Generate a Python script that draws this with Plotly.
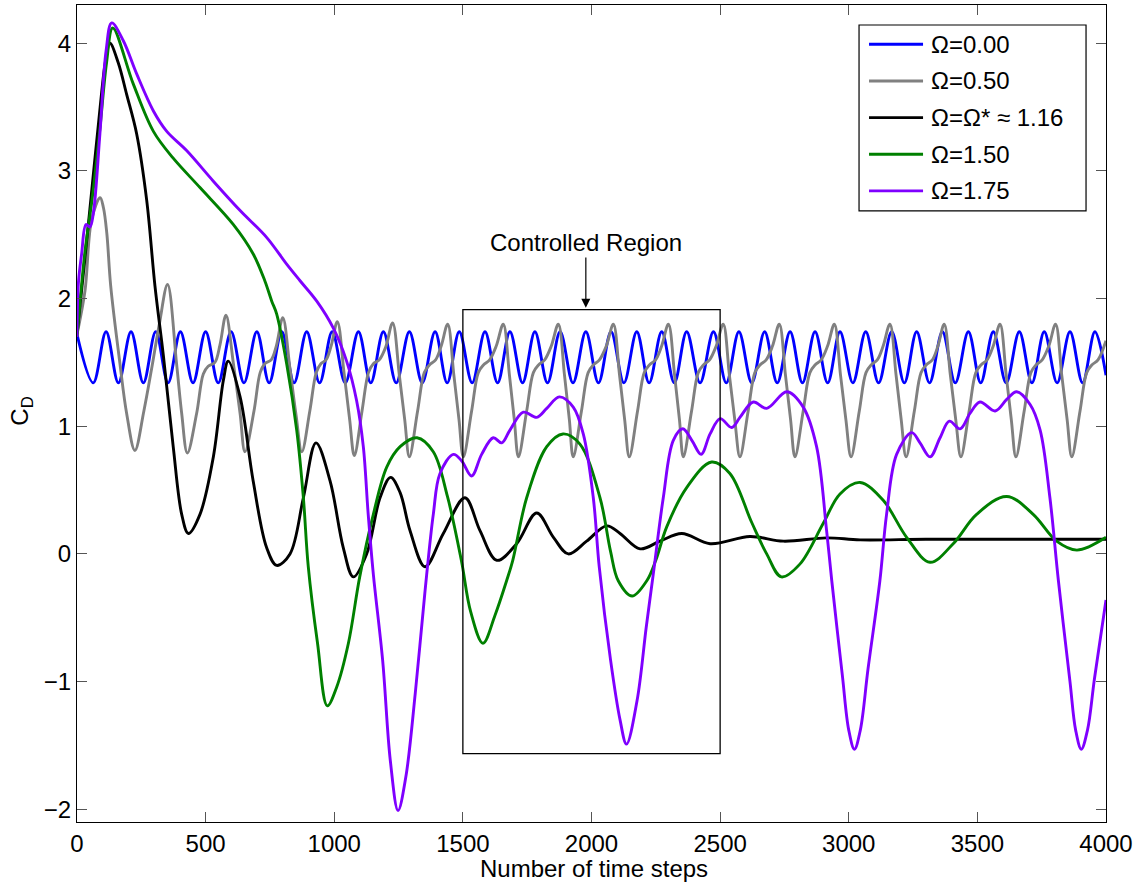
import plotly.graph_objects as go

# ---------------------------------------------------------------- data
# Drag coefficient C_D against number of time steps for five rotation rates

blue_steps = [0, 63, 113, 161, 210, 258, 306, 354, 402, 451, 500, 549, 599, 649, 699, 747,
              796, 844, 893, 943, 992, 1043, 1094, 1142, 1191, 1241, 1292, 1342, 1392, 1439,
              1486, 1536, 1586, 1635, 1683, 1732, 1780, 1829, 1878, 1928, 1978, 2027, 2076,
              2126, 2176, 2224, 2273, 2322, 2370, 2422, 2474, 2524, 2573, 2623, 2673, 2722,
              2772, 2820, 2869, 2918, 2966, 3016, 3066, 3116, 3167, 3216, 3264, 3314, 3364,
              3414, 3465, 3513, 3562, 3612, 3663, 3712, 3760, 3810, 3860, 3909, 3957, 4000]
blue_cd = [1.72, 1.34, 1.74, 1.34, 1.74, 1.34, 1.74, 1.34, 1.74, 1.34, 1.74, 1.34, 1.74, 1.34,
           1.74, 1.34, 1.74, 1.34, 1.74, 1.34, 1.74, 1.34, 1.74, 1.34, 1.74, 1.34, 1.74, 1.34,
           1.74, 1.34, 1.74, 1.34, 1.74, 1.34, 1.74, 1.34, 1.74, 1.34, 1.74, 1.34, 1.74, 1.34,
           1.74, 1.34, 1.74, 1.34, 1.74, 1.34, 1.74, 1.34, 1.74, 1.34, 1.74, 1.34, 1.74, 1.34,
           1.74, 1.34, 1.74, 1.34, 1.74, 1.34, 1.74, 1.34, 1.74, 1.34, 1.74, 1.34, 1.74, 1.34,
           1.74, 1.34, 1.74, 1.34, 1.74, 1.34, 1.74, 1.34, 1.74, 1.34, 1.74, 1.40]

gray_steps = [0, 31, 57, 90, 103, 116, 131, 167, 193, 225,
              260, 290, 320, 352, 387, 407, 429,
              465, 491, 510, 536, 556, 579, 608, 634, 653,
              688, 712, 730, 755, 775, 800, 828, 852, 874,
              905, 930, 948, 968, 988, 1012, 1038, 1060, 1078,
              1108, 1133, 1152, 1175, 1200, 1227, 1253, 1274, 1292,
              1324, 1350, 1370, 1394, 1416, 1441, 1465, 1485, 1502,
              1534, 1560, 1580, 1604, 1630, 1657, 1681, 1700, 1716,
              1748, 1774, 1794, 1818, 1844, 1871, 1895, 1914, 1929,
              1961, 1987, 2007, 2031, 2058, 2085, 2109, 2129, 2147,
              2179, 2205, 2225, 2249, 2273, 2299, 2323, 2342, 2357,
              2389, 2415, 2435, 2459, 2485, 2512, 2536, 2557, 2577,
              2609, 2635, 2655, 2679, 2704, 2730, 2754, 2774, 2791,
              2823, 2849, 2869, 2893, 2918, 2944, 2968, 2989, 3009,
              3041, 3067, 3087, 3111, 3134, 3160, 3184, 3204, 3223,
              3255, 3281, 3301, 3325, 3347, 3371, 3395, 3416, 3436,
              3468, 3494, 3514, 3538, 3562, 3588, 3612, 3632, 3650,
              3682, 3708, 3728, 3752, 3778, 3804, 3828, 3849, 3867,
              3899, 3925, 3945, 3969, 4000]
gray_cd = [1.72, 2.06, 2.62, 2.79, 2.71, 2.51, 2.10, 1.49, 1.10, 0.81,
           1.12, 1.45, 1.80, 2.11, 1.49, 1.10, 0.79,
           1.10, 1.41, 1.47, 1.50, 1.64, 1.87, 1.49, 1.10, 0.80,
           1.12, 1.42, 1.49, 1.52, 1.63, 1.85, 1.45, 1.08, 0.80,
           1.12, 1.42, 1.49, 1.52, 1.63, 1.82, 1.42, 1.05, 0.77,
           1.12, 1.42, 1.49, 1.52, 1.62, 1.81, 1.40, 1.05, 0.76,
           1.12, 1.42, 1.48, 1.52, 1.63, 1.80, 1.40, 1.05, 0.76,
           1.12, 1.42, 1.48, 1.52, 1.63, 1.80, 1.40, 1.05, 0.76,
           1.12, 1.42, 1.48, 1.52, 1.63, 1.80, 1.40, 1.05, 0.76,
           1.12, 1.42, 1.48, 1.52, 1.63, 1.80, 1.40, 1.05, 0.76,
           1.12, 1.42, 1.48, 1.52, 1.63, 1.80, 1.40, 1.05, 0.76,
           1.12, 1.42, 1.48, 1.52, 1.63, 1.80, 1.40, 1.05, 0.76,
           1.12, 1.42, 1.48, 1.52, 1.63, 1.80, 1.40, 1.05, 0.76,
           1.12, 1.42, 1.48, 1.52, 1.63, 1.80, 1.40, 1.05, 0.76,
           1.12, 1.42, 1.48, 1.52, 1.63, 1.80, 1.40, 1.05, 0.76,
           1.12, 1.42, 1.48, 1.52, 1.63, 1.80, 1.40, 1.05, 0.76,
           1.12, 1.42, 1.48, 1.52, 1.63, 1.80, 1.40, 1.05, 0.76,
           1.12, 1.42, 1.48, 1.52, 1.63, 1.80, 1.40, 1.05, 0.76,
           1.12, 1.42, 1.48, 1.52, 1.67]

black_steps = [0, 30, 60, 90, 110, 128, 160, 193, 232, 271, 303, 336, 374, 407, 433, 478,
               530, 569, 588, 634, 685, 737, 776, 828, 880, 929, 984, 1035, 1074, 1126,
               1178, 1219, 1256, 1295, 1353, 1424, 1508, 1567, 1632, 1709, 1787, 1852,
               1910, 1981, 2059, 2111, 2189, 2266, 2351, 2461, 2616, 2746, 2914, 3044,
               3300, 3600, 4000]
black_cd = [1.72, 2.30, 2.90, 3.50, 3.85, 4.00, 3.85, 3.60, 3.29, 2.77, 2.10, 1.55, 0.84,
            0.31, 0.16, 0.31, 0.76, 1.36, 1.51, 1.23, 0.57, 0.05, -0.09, 0.00, 0.44, 0.87,
            0.57, 0.05, -0.18, 0.00, 0.44, 0.60, 0.48, 0.18, -0.10, 0.16, 0.44, 0.18, -0.05,
            0.08, 0.32, 0.13, 0.00, 0.10, 0.22, 0.16, 0.04, 0.10, 0.16, 0.08, 0.136, 0.10,
            0.126, 0.11, 0.115, 0.115, 0.115]

green_steps = [0, 30, 60, 90, 115, 139, 219, 297, 374, 478, 608, 685, 730, 757, 776, 815,
               854, 880, 899, 935, 973, 1010, 1055, 1099, 1152, 1204, 1256, 1322, 1385,
               1440, 1494, 1530, 1578, 1625, 1670, 1694, 1748, 1826, 1889, 1955, 2033,
               2074, 2104, 2158, 2215, 2250, 2292, 2370, 2467, 2538, 2622, 2681, 2738,
               2810, 2901, 2966, 3044, 3134, 3225, 3316, 3406, 3497, 3614, 3717, 3808,
               3887, 4000]
green_cd = [1.70, 2.35, 2.80, 3.35, 3.85, 4.12, 3.68, 3.31, 3.10, 2.87, 2.58, 2.35, 2.14,
            1.98, 1.88, 1.49, 0.97, 0.44, -0.10, -0.70, -1.19, -1.04, -0.70, -0.18, 0.31,
            0.68, 0.84, 0.91, 0.80, 0.45, -0.05, -0.45, -0.70, -0.48, -0.21, -0.05, 0.44,
            0.84, 0.94, 0.86, 0.44, 0.02, -0.21, -0.33, -0.21, -0.05, 0.21, 0.52, 0.72,
            0.63, 0.25, 0.00, -0.18, -0.08, 0.24, 0.47, 0.56, 0.42, 0.13, -0.065, 0.08,
            0.31, 0.45, 0.31, 0.10, 0.03, 0.13]

purple_steps = [0, 5, 18, 35, 50, 63, 89, 113, 135, 180, 232, 297, 349, 426, 530, 634, 737,
                815, 867, 932, 996, 1048, 1087, 1113, 1132, 1152, 1188, 1218, 1248, 1278,
                1315, 1352, 1385, 1411, 1463, 1495, 1534, 1573, 1618, 1651, 1683, 1735,
                1787, 1826, 1875, 1929, 1968, 2007, 2030, 2074, 2111, 2136, 2177, 2213,
                2240, 2279, 2318, 2355, 2390, 2426, 2461, 2500, 2545, 2577, 2629, 2681,
                2759, 2823, 2875, 2914, 2934, 2975, 3000, 3022, 3045, 3075, 3121, 3147,
                3186, 3245, 3277, 3316, 3355, 3391, 3433, 3471, 3510, 3569, 3614, 3653,
                3705, 3744, 3782, 3815, 3860, 3882, 3904, 3928, 3955, 4000]
purple_cd = [1.70, 2.11, 2.35, 2.58, 2.56, 2.66, 3.29, 3.94, 4.16, 4.02, 3.76, 3.47, 3.31,
             3.16, 2.92, 2.69, 2.48, 2.27, 2.14, 1.98, 1.77, 1.51, 1.20, 0.84, 0.31, -0.16,
             -0.83, -1.62, -2.01, -1.75, -1.09, -0.31, 0.31, 0.63, 0.78, 0.73, 0.61, 0.78,
             0.91, 0.87, 0.97, 1.11, 1.07, 1.14, 1.23, 1.15, 0.94, 0.44, -0.10, -0.83,
             -1.30, -1.49, -1.15, -0.57, -0.16, 0.44, 0.89, 0.98, 0.89, 0.78, 0.94, 1.06,
             0.99, 1.07, 1.19, 1.14, 1.27, 1.15, 0.84, 0.18, -0.21, -0.95, -1.38, -1.53,
             -1.38, -0.90, -0.21, 0.31, 0.78, 0.95, 0.87, 0.76, 0.91, 1.04, 0.98, 1.10,
             1.19, 1.12, 1.21, 1.27, 1.17, 0.97, 0.44, -0.21, -1.00, -1.38, -1.53, -1.38,
             -0.98, -0.36]

series_names = ["Ω=0.00", "Ω=0.50", "Ω=Ω* ≈ 1.16", "Ω=1.50", "Ω=1.75"]
series_colors = ["#0000FF", "#808080", "#000000", "#008000", "#7F00FF"]

x_ticks = [0, 500, 1000, 1500, 2000, 2500, 3000, 3500, 4000]
y_ticks = [-2, -1, 0, 1, 2, 3, 4]

# controlled-region window (steps, C_D) and its caption
region_start, region_end = 1500, 2500
region_low, region_high = -1.565, 1.913
caption_step, caption_cd, arrow_tip_cd = 1978, 2.44, 1.928

# ---------------------------------------------------------------- figure
FONT = "Liberation Sans, Arial, Helvetica, sans-serif"
LINE_W = 2.9

fig = go.Figure()
all_series = [(blue_steps, blue_cd), (gray_steps, gray_cd), (black_steps, black_cd),
              (green_steps, green_cd), (purple_steps, purple_cd)]
for (xs, ys), name, color in zip(all_series, series_names, series_colors):
    fig.add_trace(go.Scatter(x=xs, y=ys, mode="lines", name=name, showlegend=False,
                             line=dict(color=color, width=LINE_W, shape="spline",
                                       smoothing=1.0),
                             hoverinfo="skip"))

axis_common = dict(showgrid=False, zeroline=False, showline=True, linecolor="black",
                   linewidth=1.2, mirror="ticks", ticks="inside", ticklen=10, tickwidth=1,
                   tickcolor="#555555", tickfont=dict(family=FONT, size=24, color="black"))

fig.update_xaxes(range=[0, 4000], tickvals=x_ticks, ticktext=[str(v) for v in x_ticks],
                 **axis_common)
fig.update_yaxes(range=[-2.1, 4.3], tickvals=y_ticks,
                 ticktext=[str(v).replace("-", "−") for v in y_ticks], **axis_common)

# controlled region box with its arrow caption
fig.add_shape(type="rect", xref="x", yref="y", x0=region_start, x1=region_end,
              y0=region_low, y1=region_high, line=dict(color="black", width=1.3))
fig.add_annotation(x=caption_step, y=arrow_tip_cd, ax=caption_step, ay=caption_cd,
                   xref="x", yref="y", axref="x", ayref="y", text="Controlled Region",
                   showarrow=True, arrowhead=2, arrowsize=1.5, arrowwidth=1.2,
                   arrowcolor="black", font=dict(family=FONT, size=24, color="black"))

# legend drawn as a framed key in the upper right
fig.add_shape(type="rect", xref="paper", yref="paper", x0=0.760, x1=0.9806,
              y0=0.7481, y1=0.9755, line=dict(color="black", width=1.2),
              fillcolor="white", layer="above")
legend_rows = [0.9519, 0.9070, 0.8621, 0.8174, 0.7725]
for row_y, name, color in zip(legend_rows, series_names, series_colors):
    fig.add_shape(type="line", xref="paper", yref="paper", x0=0.7697, x1=0.8222,
                  y0=row_y, y1=row_y, line=dict(color=color, width=LINE_W), layer="above")
    fig.add_annotation(x=0.828, y=row_y, xref="paper", yref="paper", text=name,
                       showarrow=False, xanchor="left", yanchor="middle",
                       font=dict(family=FONT, size=24, color="black"))

# axis titles
fig.add_annotation(x=0.502, y=-0.0385, xref="paper", yref="paper",
                   text="Number of time steps", showarrow=False, xanchor="center",
                   yanchor="top", font=dict(family=FONT, size=24, color="black"))
fig.add_annotation(x=-0.0535, y=0.5034, xref="paper", yref="paper", text="C<sub>D</sub>",
                   textangle=-90, showarrow=False, xanchor="center", yanchor="middle",
                   font=dict(family=FONT, size=24, color="black"))

fig.update_layout(width=1143, height=886, margin=dict(l=77, r=37, t=5, b=63.5),
                  plot_bgcolor="white", paper_bgcolor="white",
                  font=dict(family=FONT, size=24, color="black"))

fig.write_html("out.html", config={"displayModeBar": False})
